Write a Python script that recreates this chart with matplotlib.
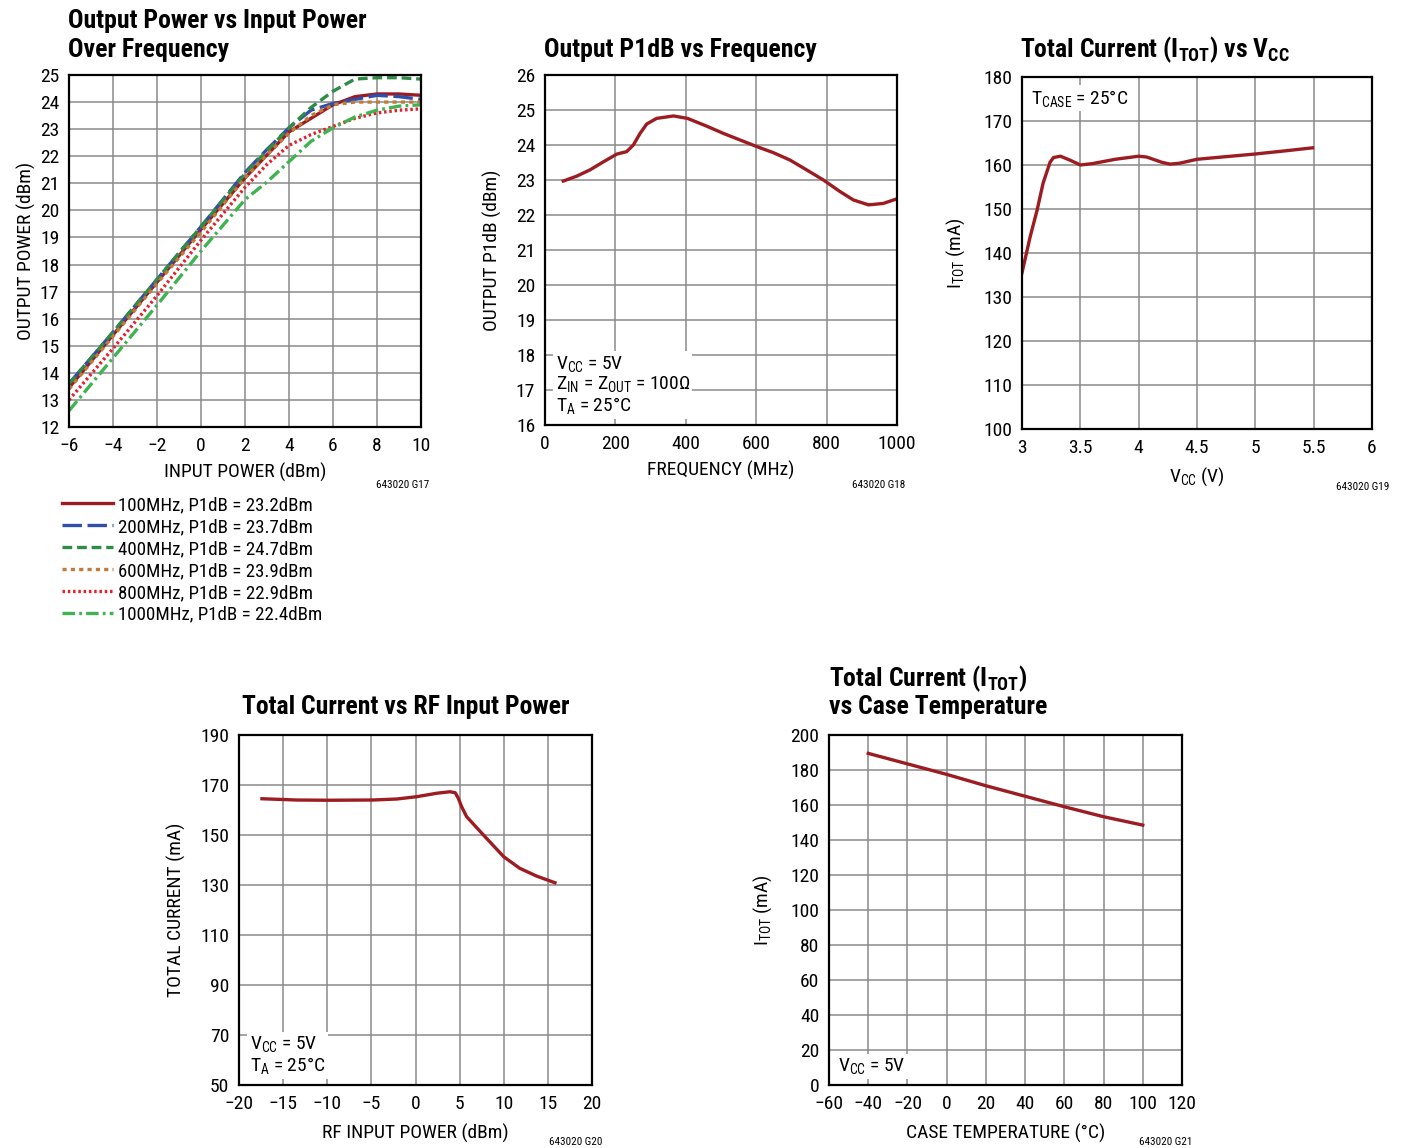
import matplotlib
matplotlib.use("Agg")
import matplotlib.pyplot as plt
from matplotlib import font_manager

# pick a narrow face, the datasheet uses a condensed Helvetica
ttf = font_manager.fontManager.ttflist
names = set(f.name for f in ttf)
fam, stretch = 'DejaVu Sans', 'normal'
for p in ['Liberation Sans Narrow', 'Roboto Condensed', 'Noto Sans Condensed',
          'Open Sans Condensed', 'DejaVu Sans Condensed']:
    if p in names:
        fam = p
        break
else:
    for base in ['Noto Sans', 'DejaVu Sans', 'Roboto', 'Open Sans']:
        if any(f.name == base and f.stretch == 'condensed' for f in ttf):
            fam, stretch = base, 'condensed'
            break
plt.rcParams['font.family'] = [fam, 'DejaVu Sans']
plt.rcParams['font.stretch'] = stretch
plt.rcParams['mathtext.default'] = 'regular'
plt.rcParams['lines.scale_dashes'] = False

# ---- data: output power vs input power
pin = [-6, -4, -2, 0, 2, 3, 4, 5, 6, 7, 8, 9, 10]
p100 = [13.45, 15.4, 17.35, 19.3, 21.2, 22.05, 22.9, 23.4, 23.9, 24.2, 24.3, 24.3, 24.25]
p200 = [13.6, 15.5, 17.45, 19.4, 21.4, 22.25, 23.05, 23.7, 23.95, 24.1, 24.25, 24.2, 24.1]
p400 = [13.6, 15.5, 17.45, 19.4, 21.35, 22.2, 23.05, 23.8, 24.4, 24.85, 24.9, 24.9, 24.85]
p600 = [13.4, 15.35, 17.3, 19.2, 21.2, 22.05, 22.85, 23.5, 23.9, 24.0, 24.0, 24.0, 24.0]
p800 = [13.0, 14.9, 16.85, 18.9, 20.85, 21.7, 22.4, 22.8, 23.1, 23.4, 23.6, 23.7, 23.75]
p1000 = [12.6, 14.55, 16.5, 18.5, 20.4, 21.05, 21.8, 22.55, 23.05, 23.45, 23.7, 23.85, 23.9]
leg = ['100MHz, P1dB = 23.2dBm', '200MHz, P1dB = 23.7dBm', '400MHz, P1dB = 24.7dBm',
       '600MHz, P1dB = 23.9dBm', '800MHz, P1dB = 22.9dBm', '1000MHz, P1dB = 22.4dBm']

# ---- P1dB vs frequency
freq = [52, 90, 128, 166, 204, 232, 251, 270, 289, 317, 365, 405, 459, 507, 603, 649, 696,
        743, 791, 838, 876, 919, 961, 999]
p1db = [22.97, 23.11, 23.29, 23.52, 23.74, 23.81, 24.0, 24.33, 24.6, 24.76, 24.83, 24.76, 24.54,
        24.33, 23.95, 23.78, 23.57, 23.29, 23.0, 22.67, 22.43, 22.29, 22.33, 22.46]

# ---- Itot vs Vcc
vcc = [3.0, 3.07, 3.13, 3.18, 3.24, 3.27, 3.33, 3.42, 3.5, 3.6, 3.8, 4.0, 4.07, 4.2, 4.27,
       4.35, 4.5, 4.75, 5.0, 5.25, 5.49]
itot_v = [135.5, 143.7, 149.8, 155.8, 160.6, 161.7, 162.0, 161.0, 160.0, 160.3, 161.3, 162.0,
          161.8, 160.6, 160.2, 160.4, 161.3, 161.9, 162.5, 163.2, 163.9]

# ---- Itot vs RF input power
rfin = [-17.4, -13.5, -9.9, -4.8, -2.1, 0.1, 2.4, 3.9, 4.5, 4.85, 5.23, 5.8, 7.7, 10.0, 11.8,
        13.7, 15.8]
itot_p = [164.5, 164.0, 163.9, 164.0, 164.4, 165.3, 166.7, 167.3, 166.9, 164.7, 161.3, 157.3,
          150.0, 141.3, 136.7, 133.6, 130.9]

# ---- Itot vs case temperature
tcase = [-40, -20, 0, 20, 40, 60, 80, 100]
itot_t = [189.5, 183.5, 177.5, 171.0, 165.0, 159.0, 153.3, 148.5]

W, H = 1402, 1148
fig = plt.figure(figsize=(W / 100, H / 100), dpi=100)
fs = 14      # ticks / labels
tfs = 18.5   # titles
cfs = 8      # figure codes

def mkax(l, t, r, b):
    ax = fig.add_axes([l / W, 1 - b / H, (r - l) / W, (b - t) / H])
    ax.grid(True, color='#8a8a8a', lw=1.1)
    ax.set_axisbelow(True)
    ax.tick_params(length=0, labelsize=fs, pad=7)
    for s in ax.spines.values():
        s.set_linewidth(1.6)
    return ax

red = '#9c1c22'
lw = 2.4
box = dict(facecolor='white', edgecolor='none', pad=2)

# chart 1
ax1 = mkax(69, 75, 421, 427)
ax1.plot(pin, p100, color=red, lw=lw, label=leg[0])
ax1.plot(pin, p200, color='#2f4fa8', lw=lw, ls=(0, (14, 4)), label=leg[1])
ax1.plot(pin, p400, color='#2e8b48', lw=lw, ls=(0, (7, 3.5)), label=leg[2])
ax1.plot(pin, p600, color='#c07a3a', lw=lw, ls=(0, (3, 3)), label=leg[3])
ax1.plot(pin, p800, color='#e3202c', lw=lw, ls=(0, (1.8, 2)), label=leg[4])
ax1.plot(pin, p1000, color='#3fb34f', lw=lw, ls=(0, (9, 3, 2, 3)), label=leg[5])
ax1.set_xlim(-6, 10)
ax1.set_ylim(12, 25)
ax1.set_xticks(range(-6, 11, 2))
ax1.set_yticks(range(12, 26))
ax1.set_xlabel('INPUT POWER (dBm)', fontsize=fs, labelpad=6)
ax1.set_ylabel('OUTPUT POWER (dBm)', fontsize=fs, labelpad=3)
ax1.legend(loc='upper left', bbox_to_anchor=(62 / W, 1 - 496 / H), bbox_transform=fig.transFigure,
           frameon=False, fontsize=13.6, handlelength=2.7, handletextpad=0.25, labelspacing=0.21,
           borderaxespad=0, borderpad=0)
fig.text(68 / W, 1 - 28 / H, 'Output Power vs Input Power', fontsize=tfs, weight='bold')
fig.text(68 / W, 1 - 57 / H, 'Over Frequency', fontsize=tfs, weight='bold')
fig.text(429 / W, 1 - 488 / H, '643020 G17', fontsize=cfs, ha='right')

# chart 2
ax2 = mkax(545, 75, 897, 425)
ax2.plot(freq, p1db, color=red, lw=lw)
ax2.set_xlim(0, 1000)
ax2.set_ylim(16, 26)
ax2.set_xticks(range(0, 1001, 200))
ax2.set_yticks(range(16, 27))
ax2.set_xlabel('FREQUENCY (MHz)', fontsize=fs, labelpad=6)
ax2.set_ylabel('OUTPUT P1dB (dBm)', fontsize=fs, labelpad=10)
ax2.text(0.03, 0.025, 'V$_{CC}$ = 5V\nZ$_{IN}$ = Z$_{OUT}$ = 100Ω\nT$_{A}$ = 25°C', transform=ax2.transAxes,
         fontsize=fs, va='bottom', ha='left', bbox=box, linespacing=1.05)
fig.text(544 / W, 1 - 57 / H, 'Output P1dB vs Frequency', fontsize=tfs, weight='bold')
fig.text(905 / W, 1 - 488 / H, '643020 G18', fontsize=cfs, ha='right')

# chart 3
ax3 = mkax(1022, 77, 1372, 429)
ax3.plot(vcc, itot_v, color=red, lw=lw)
ax3.set_xlim(3, 6)
ax3.set_ylim(100, 180)
ax3.set_xticks([3, 3.5, 4, 4.5, 5, 5.5, 6])
ax3.set_xticklabels(['3', '3.5', '4', '4.5', '5', '5.5', '6'])
ax3.set_yticks(range(100, 181, 10))
ax3.set_xlabel('V$_{CC}$ (V)', fontsize=fs, labelpad=6)
ax3.set_ylabel('I$_{TOT}$ (mA)', fontsize=fs, labelpad=12)
ax3.text(0.025, 0.97, 'T$_{CASE}$ = 25°C', transform=ax3.transAxes, fontsize=fs,
         va='top', ha='left', bbox=box)
fig.text(1020 / W, 1 - 57 / H, 'Total Current (I$_{TOT}$) vs V$_{CC}$', fontsize=tfs, weight='bold')
fig.text(1389 / W, 1 - 490 / H, '643020 G19', fontsize=cfs, ha='right')

# chart 4
ax4 = mkax(239, 735, 592, 1085)
ax4.plot(rfin, itot_p, color=red, lw=lw)
ax4.set_xlim(-20, 20)
ax4.set_ylim(50, 190)
ax4.set_xticks(range(-20, 21, 5))
ax4.set_yticks(range(50, 191, 20))
ax4.set_xlabel('RF INPUT POWER (dBm)', fontsize=fs, labelpad=8)
ax4.set_ylabel('TOTAL CURRENT (mA)', fontsize=fs, labelpad=10)
ax4.text(0.03, 0.025, 'V$_{CC}$ = 5V\nT$_{A}$ = 25°C', transform=ax4.transAxes, fontsize=fs,
         va='bottom', ha='left', bbox=box, linespacing=1.05)
fig.text(242 / W, 1 - 714 / H, 'Total Current vs RF Input Power', fontsize=tfs, weight='bold')
fig.text(602 / W, 1 - 1145 / H, '643020 G20', fontsize=cfs, ha='right')

# chart 5
ax5 = mkax(829, 735, 1182, 1085)
ax5.plot(tcase, itot_t, color=red, lw=lw)
ax5.set_xlim(-60, 120)
ax5.set_ylim(0, 200)
ax5.set_xticks(range(-60, 121, 20))
ax5.set_yticks(range(0, 201, 20))
ax5.set_xlabel('CASE TEMPERATURE (°C)', fontsize=fs, labelpad=8)
ax5.set_ylabel('I$_{TOT}$ (mA)', fontsize=fs, labelpad=12)
ax5.text(0.025, 0.025, 'V$_{CC}$ = 5V', transform=ax5.transAxes, fontsize=fs,
         va='bottom', ha='left', bbox=box)
fig.text(829 / W, 1 - 686 / H, 'Total Current (I$_{TOT}$)', fontsize=tfs, weight='bold')
fig.text(829 / W, 1 - 714 / H, 'vs Case Temperature', fontsize=tfs, weight='bold')
fig.text(1192 / W, 1 - 1145 / H, '643020 G21', fontsize=cfs, ha='right')

fig.savefig('out.png', dpi=100)
